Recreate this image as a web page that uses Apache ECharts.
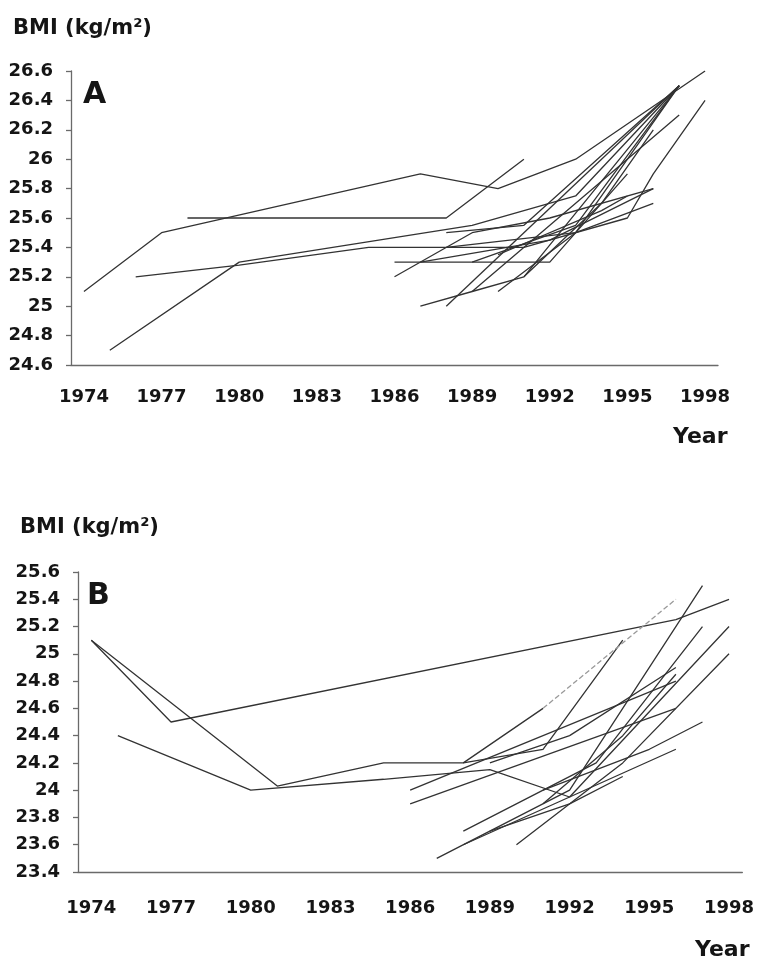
<!DOCTYPE html>
<html><head><meta charset="utf-8">
<script src="https://cdn.jsdelivr.net/npm/echarts@6/dist/echarts.min.js"></script>
<style>html,body{margin:0;padding:0;background:#fff}#c{width:757px;height:963px}</style>
</head><body><div id="c"></div>
<script>
// categories
const years = [];
for (let y = 1974; y <= 1998; y++) years.push(String(y));

// y-axis tick ranges
const yTicksA = [24.6, 24.8, 25, 25.2, 25.4, 25.6, 25.8, 26, 26.2, 26.4, 26.6];
const yTicksB = [23.4, 23.6, 23.8, 24, 24.2, 24.4, 24.6, 24.8, 25, 25.2, 25.4, 25.6];

// Panel A series: [year, BMI]
const a01 = [[1974,25.1],[1977,25.5],[1987,25.9],[1990,25.8],[1993,26.0],[1998,26.6]];
const a02 = [[1978,25.6],[1988,25.6],[1991,26.0]];
const a03 = [[1975,24.7],[1980,25.3],[1989,25.55],[1993,25.75],[1997,26.5]];
const a04 = [[1976,25.2],[1980,25.28],[1985,25.4],[1991,25.4],[1995,25.6],[1996,25.9],[1998,26.4]];
const a05 = [[1986,25.3],[1992,25.3],[1995,25.9]];
const a06 = [[1986,25.2],[1989,25.5],[1992,25.6],[1996,25.8]];
const a07 = [[1987,25.0],[1989,25.1],[1997,26.3]];
const a08 = [[1988,25.0],[1997,26.5]];
const a09 = [[1989,25.1],[1991,25.2],[1997,26.5]];
const a10 = [[1990,25.1],[1993,25.5],[1997,26.5]];
const a11 = [[1988,25.5],[1991,25.55],[1997,26.5]];
const a12 = [[1987,25.3],[1992,25.45],[1996,25.8]];
const a13 = [[1988,25.4],[1993,25.5],[1996,25.7]];
const a14 = [[1989,25.3],[1993,25.55],[1997,26.5]];
const a15 = [[1991,25.2],[1994,25.7],[1996,26.2]];
const a16 = [[1990,25.35],[1994,25.65],[1995,25.75]];

// Panel B series
const b01 = [[1974,25.1],[1977,24.5],[1996,25.25],[1998,25.4]];
const b02 = [[1974,25.1],[1981,24.03],[1985,24.2],[1988,24.2],[1991,24.6]];
const b03 = [[1975,24.4],[1980,24.0],[1985,24.08],[1989,24.15],[1992,23.95],[1996,24.3]];
const b04 = [[1986,24.0],[1996,24.8]];
const b05 = [[1986,23.9],[1996,24.6]];
const b06 = [[1987,23.5],[1992,24.0],[1997,25.5]];
const b07 = [[1988,23.7],[1993,24.2],[1997,25.2]];
const b08 = [[1988,23.6],[1992,23.95],[1998,25.2]];
const b09 = [[1990,23.6],[1994,24.2],[1998,25.0]];
const b10 = [[1988,24.2],[1991,24.3],[1994,25.1]];
const b11 = [[1989,24.2],[1992,24.4],[1996,24.9]];
const b12 = [[1991,24.6],[1996,25.4]];
const b13 = [[1989,23.7],[1992,23.9],[1994,24.1]];
const b14 = [[1991,24.0],[1995,24.3],[1997,24.5]];
const b15 = [[1991,23.9],[1994,24.4],[1996,24.85]];

const seriesA = [a01,a02,a03,a04,a05,a06,a07,a08,a09,a10,a11,a12,a13,a14,a15,a16];
const seriesB = [b01,b02,b03,b04,b05,b06,b07,b08,b09,b10,b11,b12,b13,b14,b15];
const faintB = [b12];

const FONT = 'DejaVu Sans';
const lineCol = '#333';
const axisCol = '#6a6a6a';
const textCol = '#151515';

function mkX(gi) {
  return {
    type: 'category', gridIndex: gi, data: years, boundaryGap: true,
    axisLine: { lineStyle: { color: axisCol, width: 1.3 } },
    axisTick: { interval: 0, length: 6, lineStyle: { color: axisCol, width: 1.3 } },
    axisLabel: { interval: 2, color: textCol, fontFamily: FONT, fontWeight: 'bold', fontSize: 18, margin: gi === 0 ? 23 : 27 },
    splitLine: { show: false }
  };
}
function mkY(gi, ticks) {
  return {
    type: 'value', gridIndex: gi, min: ticks[0], max: ticks[ticks.length - 1], interval: 0.2,
    axisLine: { show: true, lineStyle: { color: axisCol, width: 1.3 } },
    axisTick: { show: true, length: 5, lineStyle: { color: axisCol, width: 1.3 } },
    axisLabel: { color: textCol, fontFamily: FONT, fontWeight: 'bold', fontSize: 18, margin: 18,
      formatter: v => String(+(+v).toFixed(1)) },
    splitLine: { show: false }
  };
}
function mkSeries(arr, gi, faint) {
  return {
    type: 'line', xAxisIndex: gi, yAxisIndex: gi, symbol: 'none', silent: true,
    data: arr.map(p => [String(p[0]), p[1]]),
    lineStyle: { color: faint ? '#9a9a9a' : lineCol, width: 1.3, type: faint ? 'dashed' : 'solid' },
    animation: false
  };
}

const series = [];
seriesA.forEach(s => series.push(mkSeries(s, 0, false)));
seriesB.forEach(s => series.push(mkSeries(s, 1, faintB.includes(s))));

const chart = echarts.init(document.getElementById('c'), null, { renderer: 'canvas' });
chart.setOption({
  backgroundColor: '#fff',
  animation: false,
  grid: [
    { left: 71, top: 71, width: 647, height: 294 },
    { left: 78, top: 572, width: 669, height: 300 }
  ],
  xAxis: [mkX(0), mkX(1)],
  yAxis: [mkY(0, yTicksA), mkY(1, yTicksB)],
  series: series,
  graphic: [
    { type: 'text', left: 13, top: 18, style: { text: 'BMI (kg/m²)', font: 'bold 21px "DejaVu Sans"', fill: textCol } },
    { type: 'text', left: 20, top: 517, style: { text: 'BMI (kg/m²)', font: 'bold 21px "DejaVu Sans"', fill: textCol } },
    { type: 'text', left: 83, top: 80, style: { text: 'A', font: 'bold 30px "DejaVu Sans"', fill: textCol } },
    { type: 'text', left: 87, top: 581, style: { text: 'B', font: 'bold 30px "DejaVu Sans"', fill: textCol } },
    { type: 'text', left: 673, top: 426, style: { text: 'Year', font: 'bold 22px "DejaVu Sans"', fill: textCol } },
    { type: 'text', left: 695, top: 939, style: { text: 'Year', font: 'bold 22px "DejaVu Sans"', fill: textCol } }
  ]
});
</script></body></html>
